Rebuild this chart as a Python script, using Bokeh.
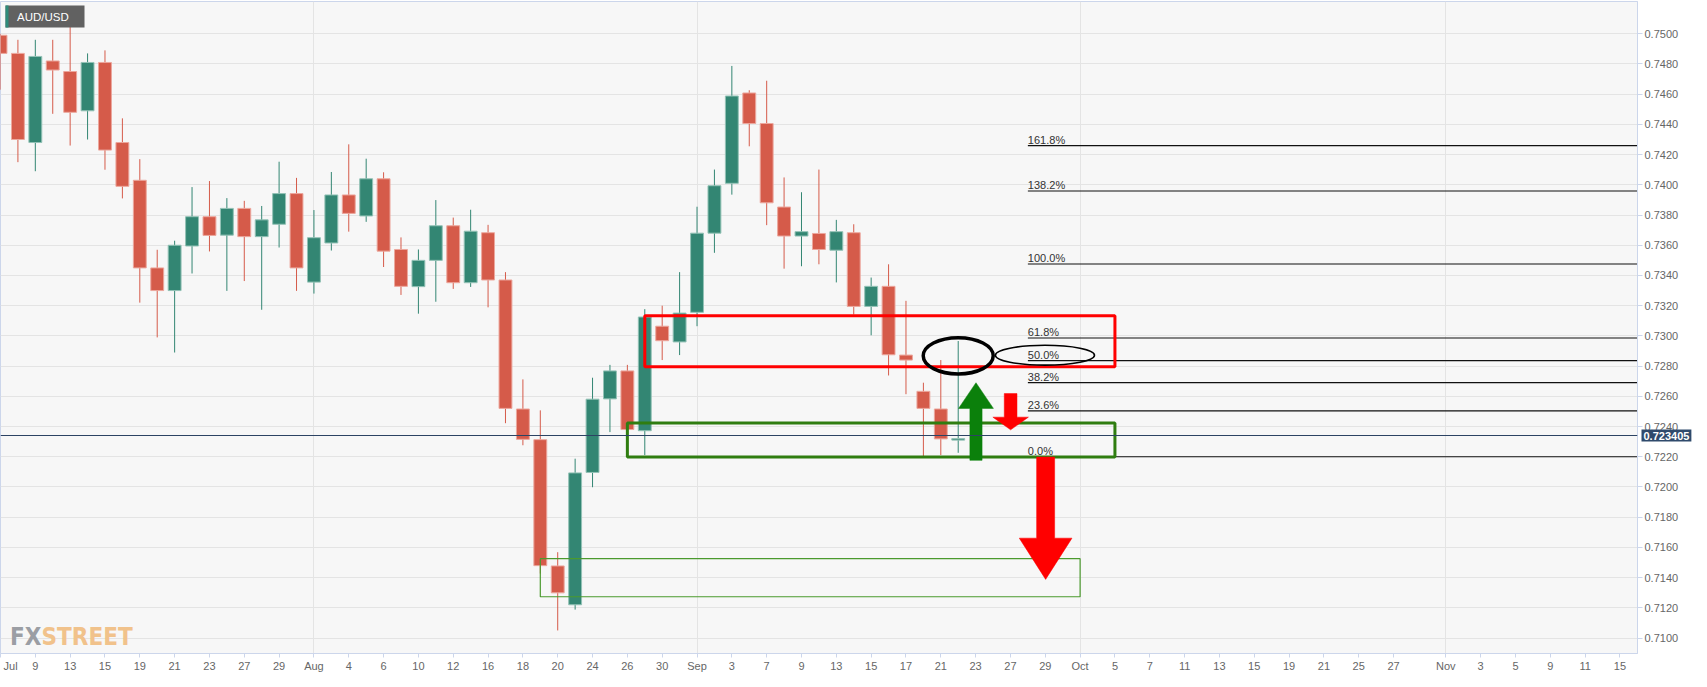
import numpy as np
from bokeh.plotting import figure
from bokeh.models import (Range1d, FixedTicker, PrintfTickFormatter,
                          Span, Label, ColumnDataSource)
from bokeh.core.properties import value
from bokeh.embed import file_html
from bokeh.resources import INLINE

# ---------------- data ----------------
dates = ["2021-07-07", "2021-07-08", "2021-07-09", "2021-07-12", "2021-07-13", "2021-07-14",
         "2021-07-15", "2021-07-16", "2021-07-19", "2021-07-20", "2021-07-21", "2021-07-22",
         "2021-07-23", "2021-07-26", "2021-07-27", "2021-07-28", "2021-07-29", "2021-07-30",
         "2021-08-02", "2021-08-03", "2021-08-04", "2021-08-05", "2021-08-06", "2021-08-09",
         "2021-08-10", "2021-08-11", "2021-08-12", "2021-08-13", "2021-08-16", "2021-08-17",
         "2021-08-18", "2021-08-19", "2021-08-20", "2021-08-23", "2021-08-24", "2021-08-25",
         "2021-08-26", "2021-08-27", "2021-08-30", "2021-08-31", "2021-09-01", "2021-09-02",
         "2021-09-03", "2021-09-06", "2021-09-07", "2021-09-08", "2021-09-09", "2021-09-10",
         "2021-09-13", "2021-09-14", "2021-09-15", "2021-09-16", "2021-09-17", "2021-09-20",
         "2021-09-21", "2021-09-22"]

opens = [0.7499, 0.7487, 0.7428, 0.7482, 0.7475, 0.7449, 0.7481, 0.7428, 0.7403, 0.7345,
         0.7330, 0.73595, 0.73789, 0.73667, 0.73844, 0.73657, 0.73739, 0.73942, 0.73356, 0.73615,
         0.73933, 0.73794, 0.7404, 0.73572, 0.73326, 0.7350, 0.73729, 0.73352, 0.73683, 0.7337,
         0.72516, 0.72313, 0.71477, 0.7122, 0.72096, 0.72583, 0.72768, 0.72372, 0.73064, 0.7296,
         0.73156, 0.7368, 0.7401, 0.74608, 0.74406, 0.73853, 0.73661, 0.73678, 0.73567, 0.73683,
         0.73195, 0.73328, 0.72873, 0.72633, 0.72516, 0.7231]
highs = [0.7500, 0.7496, 0.7496, 0.7496, 0.7506, 0.7487, 0.7489, 0.7444, 0.7417, 0.7357,
         0.7363, 0.73985, 0.74025, 0.73912, 0.73894, 0.7386, 0.74153, 0.74046, 0.73833, 0.74085,
         0.74268, 0.74173, 0.74083, 0.73652, 0.73572, 0.73899, 0.73783, 0.73835, 0.73735, 0.73422,
         0.72712, 0.72507, 0.71568, 0.72187, 0.72723, 0.72808, 0.72808, 0.73177, 0.7320, 0.73422,
         0.73855, 0.74101, 0.74787, 0.74626, 0.74689, 0.74049, 0.73951, 0.74101, 0.73768, 0.73739,
         0.73386, 0.73474, 0.73232, 0.7269, 0.7284, 0.72966]
lows = [0.7463, 0.7415, 0.7409, 0.7447, 0.7426, 0.7430, 0.7410, 0.7391, 0.7322, 0.7299,
        0.7289, 0.73413, 0.73559, 0.73298, 0.73363, 0.73173, 0.73585, 0.73298, 0.7328, 0.73565,
        0.7369, 0.73755, 0.73456, 0.73271, 0.73147, 0.73226, 0.73311, 0.73324, 0.73189, 0.72422,
        0.72276, 0.71427, 0.7105, 0.71188, 0.71998, 0.72363, 0.7237, 0.72211, 0.7284, 0.72873,
        0.73064, 0.7355, 0.73935, 0.74255, 0.73733, 0.73445, 0.73461, 0.73474, 0.73354, 0.73141,
        0.73004, 0.72738, 0.72614, 0.72194, 0.72211, 0.72226]
closes = [0.7487, 0.7430, 0.7485, 0.7476, 0.7448, 0.7481, 0.7423, 0.7399, 0.7345, 0.7330,
          0.7360, 0.73789, 0.73665, 0.73844, 0.73657, 0.73768, 0.73942, 0.7345, 0.7365, 0.73933,
          0.73811, 0.7404, 0.73561, 0.73328, 0.7350, 0.73729, 0.73352, 0.73693, 0.7337, 0.7252,
          0.72315, 0.71479, 0.71299, 0.72093, 0.72581, 0.72768, 0.7238, 0.73125, 0.72968, 0.73151,
          0.7368, 0.73994, 0.74588, 0.74406, 0.73881, 0.73661, 0.7369, 0.73572, 0.7369, 0.73195,
          0.73328, 0.72875, 0.7284, 0.7252, 0.72318, 0.7232]

last_price = 0.723405

tick_pos = [0, 2, 4, 6, 8, 10, 12, 14, 16, 18, 20, 22, 24, 26, 28, 30, 32, 34, 36, 38,
            40, 42, 44, 46, 48, 50, 52, 54, 56, 58, 60, 62, 64, 66, 68, 70, 72, 74, 76, 78,
            80, 83, 85, 87, 89, 91, 93]
tick_text = ["\u00a0Jul", "9", "13", "15", "19", "21", "23", "27", "29", "Aug",
             "4", "6", "10", "12", "16", "18", "20", "24", "26", "30",
             "Sep", "3", "7", "9", "13", "15", "17", "21", "23", "27", "29",
             "Oct", "5", "7", "11", "13", "15", "19", "21", "25", "27",
             "Nov", "3", "5", "9", "11", "15"]
month_pos = [18, 40, 62, 83]
price_ticks = [0.710, 0.712, 0.714, 0.716, 0.718, 0.720, 0.722, 0.724, 0.726, 0.728, 0.730,
               0.732, 0.734, 0.736, 0.738, 0.740, 0.742, 0.744, 0.746, 0.748, 0.750]

# Fibonacci levels
fib_labels = ["161.8%", "138.2%", "100.0%", "61.8%", "50.0%", "38.2%", "23.6%", "0.0%"]
fib_prices = [0.74260, 0.73959, 0.73476, 0.72986, 0.72836, 0.72690, 0.72503, 0.72200]
fib_start = 59.0

# zones (rectangles)
zone_left = [37.0, 36.0, 31.0]
zone_right = [64.0, 64.0, 62.0]
zone_top = [0.73133, 0.72424, 0.71525]
zone_bottom = [0.72795, 0.72198, 0.71273]
zone_color = ["#ff0000", "#2f7d10", "#4b9a2e"]
zone_width = [3, 3, 1.2]

# ellipses
ell_x = [55.0, 59.98]
ell_y = [0.72868, 0.72872]
ell_w = [4.02, 5.69]
ell_h = [0.0024, 0.00131]
ell_lw = [3.5, 1.6]

# arrows: centre x, tail, head base, tip, shaft half width, head half width
arr_x = [56.02, 58.01, 60.02]
arr_tail = [0.72176, 0.72618, 0.72198]
arr_base = [0.72520, 0.72462, 0.71661]
arr_tip = [0.72690, 0.72378, 0.71388]
arr_shaft = [0.35, 0.365, 0.517]
arr_head = [1.0, 1.02, 1.513]
arr_color = ["#0b800b", "#ff0000", "#ff0000"]

# ---------------- figure ----------------
FRAME_W, FRAME_H = 1637, 652
X0, X1 = 0.0, 94.01
Y0, Y1 = 0.708974, 0.752136
FONT = "Liberation Sans"

p = figure(frame_width=FRAME_W, frame_height=FRAME_H,
           x_range=Range1d(X0, X1), y_range=Range1d(Y0, Y1),
           y_axis_location="right", output_backend="svg", toolbar_location=None,
           min_border_left=0, min_border_top=1, min_border_right=70, min_border_bottom=0,
           background_fill_color="#f7f7f7", border_fill_color="white",
           outline_line_color="#ccd6eb")


def fx(px):
    return X0 + px * (X1 - X0) / FRAME_W


def fy(py):
    return Y1 - py * (Y1 - Y0) / FRAME_H


# axes
xa = p.xaxis[0]
xa.ticker = FixedTicker(ticks=tick_pos)
xa.major_label_overrides = {t: s for t, s in zip(tick_pos, tick_text)}
xa.axis_line_color = "#ccd6eb"
xa.major_tick_line_color = "#ccd6eb"
xa.major_tick_out = 4
xa.major_tick_in = 0
xa.minor_tick_line_color = None
xa.major_label_text_font = FONT
xa.major_label_text_font_size = "11px"
xa.major_label_text_color = "#666666"
xa.major_label_standoff = 2

ya = p.yaxis[0]
ya.ticker = FixedTicker(ticks=price_ticks)
ya.formatter = PrintfTickFormatter(format="%.4f")
ya.axis_line_color = "#ccd6eb"
ya.major_tick_line_color = "#ccd6eb"
ya.major_tick_out = 5
ya.major_tick_in = 0
ya.minor_tick_line_color = None
ya.major_label_text_font = FONT
ya.major_label_text_font_size = "11px"
ya.major_label_text_color = "#666666"
ya.major_label_standoff = 2

p.xgrid.ticker = FixedTicker(ticks=month_pos)
p.xgrid.grid_line_color = "#e4e4e4"
p.ygrid.grid_line_color = "#e4e4e4"

# candles
idx = list(range(len(dates)))
up = [c >= o for o, c in zip(opens, closes)]
src = ColumnDataSource(dict(
    x=idx, o=opens, h=highs, l=lows, c=closes,
    top=[max(o, c) for o, c in zip(opens, closes)],
    bottom=[min(o, c) for o, c in zip(opens, closes)],
    color=["#338673" if u else "#d55b4a" for u in up],
    border=["#93c2b6" if u else "#eca79d" for u in up],
))
p.segment(x0="x", y0="h", x1="x", y1="l", line_color="color", line_width=1, source=src)
p.vbar(x="x", width=0.74, top="top", bottom="bottom", fill_color="color",
       line_color="border", line_width=1, source=src)

# fib lines
fsrc = ColumnDataSource(dict(x0=[fib_start] * len(fib_prices), x1=[X1] * len(fib_prices),
                             y=fib_prices, t=fib_labels))
p.segment(x0="x0", y0="y", x1="x1", y1="y", line_color="#111111", line_width=1.2, source=fsrc)
p.text(x="x0", y="y", text="t", text_font=value(FONT), text_font_size="11px",
       text_color="#333333", text_baseline="bottom", text_align="left", y_offset=0,
       source=fsrc)

# zones
p.quad(left=zone_left, right=zone_right, top=zone_top, bottom=zone_bottom,
       fill_alpha=0, line_color=zone_color, line_width=zone_width)

# ellipses
p.ellipse(x=ell_x, y=ell_y, width=ell_w, height=ell_h, fill_alpha=0,
          line_color="black", line_width=ell_lw)

# arrows
axs, ays = [], []
for xc, tl, bs, tp, sh, hh in zip(arr_x, arr_tail, arr_base, arr_tip, arr_shaft, arr_head):
    axs.append([xc - sh, xc - sh, xc - hh, xc, xc + hh, xc + sh, xc + sh])
    ays.append([tl, bs, bs, tp, bs, bs, tl])
p.patches(xs=axs, ys=ays, fill_color=arr_color, line_color=arr_color, line_width=0.5)

# current price line and tag (tag placed in a side panel so it is not clipped to the frame)
p.add_layout(Span(location=last_price, dimension="width", line_color="#2c4363", line_width=1))
p.add_layout(Label(x=X1, y=last_price, x_offset=4, text=f"{last_price:.6f}", text_color="white",
                   text_font=FONT, text_font_style="bold", text_font_size="11px",
                   text_baseline="middle", background_fill_color="#2f4a6c", padding=2),
             "below")

# title box
p.quad(left=[fx(5)], right=[fx(84)], top=[fy(4)], bottom=[fy(26)],
       fill_color="#616161", line_color=None)
p.quad(left=[fx(5)], right=[fx(8)], top=[fy(4)], bottom=[fy(26)],
       fill_color="#2e8b7a", line_color=None)
p.text(x=[fx(16.5)], y=[fy(15.5)], text=["AUD/USD"], text_font=value(FONT),
       text_font_size="11.5px", text_color="white", text_baseline="middle", text_align="left")

# watermark
WM_FONT = value("DejaVu Sans Condensed, Liberation Sans, sans-serif")
p.text(x=[fx(41)], y=[fy(FRAME_H - 17)], text=["FX"], text_font=WM_FONT,
       text_font_style="bold", text_font_size="24px", text_color="#9b9ea4",
       text_baseline="alphabetic", text_align="right")
p.text(x=[fx(41)], y=[fy(FRAME_H - 17)], text=["STREET"], text_font=WM_FONT,
       text_font_style="bold", text_font_size="24px", text_color="#f1c28b",
       text_baseline="alphabetic", text_align="left")

open("out.html", "w").write(file_html(p, INLINE))
